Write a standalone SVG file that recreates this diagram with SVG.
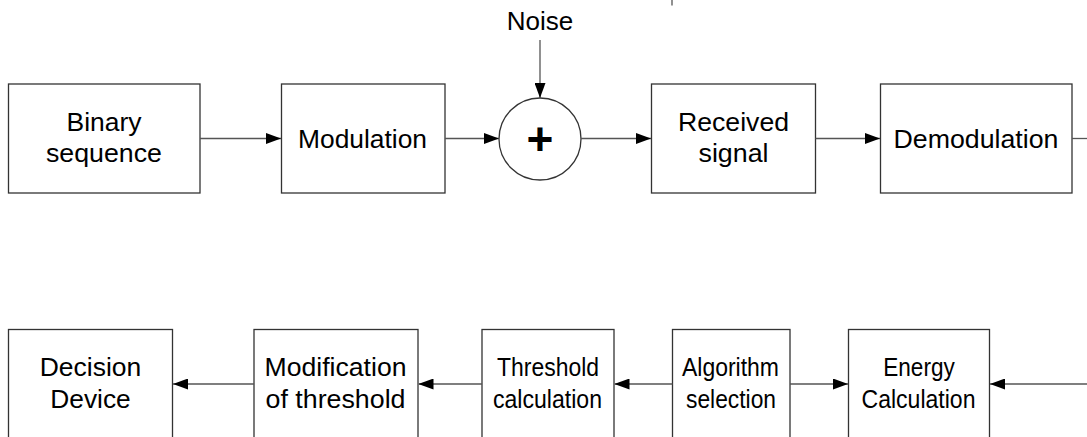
<svg xmlns="http://www.w3.org/2000/svg" width="1087" height="437" viewBox="0 0 1087 437">
  <style>
    .box { fill: #fff; stroke: #333; stroke-width: 1.3; }
    .lbl { font-family: "Liberation Sans", Arial, sans-serif; font-size: 26.5px; fill: #000; text-anchor: middle; }
    .wire { fill: none; stroke: #555; stroke-width: 1.3; }
  </style>
  <defs>
    <marker id="arrow" viewBox="0 0 15 11" refX="15" refY="5.5" markerWidth="15" markerHeight="11" markerUnits="userSpaceOnUse" orient="auto">
      <path d="M0,0 L15,5.5 L0,11 Z" fill="#000"/>
    </marker>
  </defs>
  <rect width="1087" height="437" fill="#fff"/>

  <!-- signal chain, top row -->
  <g id="binary-sequence">
    <rect class="box" x="8.5" y="84" width="191.5" height="109"/>
    <text class="lbl" x="104" y="131" textLength="75" lengthAdjust="spacingAndGlyphs">Binary</text>
    <text class="lbl" x="104" y="162" textLength="116" lengthAdjust="spacingAndGlyphs">sequence</text>
  </g>
  <g id="modulation">
    <rect class="box" x="281.5" y="84" width="163.5" height="109"/>
    <text class="lbl" x="362.5" y="147.5" textLength="129" lengthAdjust="spacingAndGlyphs">Modulation</text>
  </g>
  <g id="noise">
    <text class="lbl" x="540" y="30" textLength="66.5" lengthAdjust="spacingAndGlyphs">Noise</text>
  </g>
  <g id="adder">
    <circle class="box" cx="540" cy="139" r="41"/>
    <text x="540" y="155" font-family="Liberation Sans, Arial, sans-serif" font-size="46" font-weight="bold" text-anchor="middle">+</text>
  </g>
  <g id="received-signal">
    <rect class="box" x="651.5" y="84" width="164" height="109"/>
    <text class="lbl" x="733.5" y="131" textLength="111" lengthAdjust="spacingAndGlyphs">Received</text>
    <text class="lbl" x="733.5" y="162" textLength="70" lengthAdjust="spacingAndGlyphs">signal</text>
  </g>
  <g id="demodulation">
    <rect class="box" x="880.5" y="84" width="191.5" height="109"/>
    <text class="lbl" x="976" y="147.5" textLength="165" lengthAdjust="spacingAndGlyphs">Demodulation</text>
  </g>

  <!-- detection chain, bottom row -->
  <g id="decision-device">
    <rect class="box" x="8.5" y="329.5" width="164" height="120"/>
    <text class="lbl" x="90.5" y="376" textLength="101.5" lengthAdjust="spacingAndGlyphs">Decision</text>
    <text class="lbl" x="90.5" y="407.5" textLength="80.5" lengthAdjust="spacingAndGlyphs">Device</text>
  </g>
  <g id="modification-of-threshold">
    <rect class="box" x="254" y="329.5" width="164" height="120"/>
    <text class="lbl" x="335.5" y="376" textLength="142" lengthAdjust="spacingAndGlyphs">Modification</text>
    <text class="lbl" x="335.5" y="407.5" textLength="140" lengthAdjust="spacingAndGlyphs">of threshold</text>
  </g>
  <g id="threshold-calculation">
    <rect class="box" x="482" y="329.5" width="132" height="120"/>
    <text class="lbl" x="548" y="376" textLength="102" lengthAdjust="spacingAndGlyphs">Threshold</text>
    <text class="lbl" x="547.5" y="407.5" textLength="109" lengthAdjust="spacingAndGlyphs">calculation</text>
  </g>
  <g id="algorithm-selection">
    <rect class="box" x="672.5" y="329.5" width="117.5" height="120"/>
    <text class="lbl" x="730.5" y="376" textLength="97" lengthAdjust="spacingAndGlyphs">Algorithm</text>
    <text class="lbl" x="731" y="407.5" textLength="90" lengthAdjust="spacingAndGlyphs">selection</text>
  </g>
  <g id="energy-calculation">
    <rect class="box" x="848.5" y="329.5" width="141" height="120"/>
    <text class="lbl" x="919" y="376" textLength="71.5" lengthAdjust="spacingAndGlyphs">Energy</text>
    <text class="lbl" x="918.5" y="407.5" textLength="114" lengthAdjust="spacingAndGlyphs">Calculation</text>
  </g>

  <g id="connectors">
    <line class="wire" x1="200" y1="138.5" x2="281" y2="138.5" marker-end="url(#arrow)"/>
    <line class="wire" x1="445" y1="138.5" x2="499" y2="138.5" marker-end="url(#arrow)"/>
    <line class="wire" x1="540" y1="40" x2="540" y2="98" marker-end="url(#arrow)"/>
    <line class="wire" x1="581" y1="138.5" x2="651" y2="138.5" marker-end="url(#arrow)"/>
    <line class="wire" x1="815.5" y1="138.5" x2="880" y2="138.5" marker-end="url(#arrow)"/>
    <line class="wire" x1="1072" y1="138.5" x2="1090" y2="138.5"/>
    <line class="wire" x1="672" y1="0" x2="672" y2="5.5"/>
    <line class="wire" x1="1090" y1="384" x2="990" y2="384" marker-end="url(#arrow)"/>
    <line class="wire" x1="790" y1="384" x2="848" y2="384" marker-end="url(#arrow)"/>
    <line class="wire" x1="672.5" y1="384" x2="614.5" y2="384" marker-end="url(#arrow)"/>
    <line class="wire" x1="482" y1="384" x2="418.5" y2="384" marker-end="url(#arrow)"/>
    <line class="wire" x1="254" y1="384" x2="173" y2="384" marker-end="url(#arrow)"/>
  </g>
</svg>
